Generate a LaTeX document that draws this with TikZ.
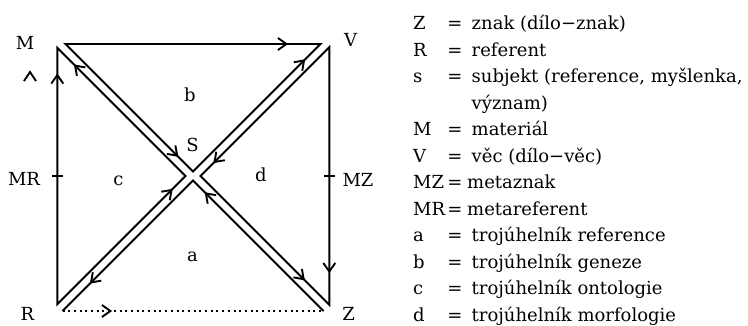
\documentclass[tikz,border=0pt]{standalone}
\usepackage{fontspec}
\setmainfont{DejaVu Serif}
\usetikzlibrary{arrows.meta,decorations.markings}
\begin{document}
\begin{tikzpicture}[x=1pt,y=-1pt,
  >={Straight Barb[length=8.5pt,width=12pt]},
  edge/.style={line width=1.9pt},
  arrowat/.style={postaction={decorate},decoration={markings,mark=at position #1 with {\arrow{>}}}},
  lbl/.style={font=\fontsize{18pt}{22pt}\selectfont, inner sep=0pt, anchor=base},
  key/.style={lbl, anchor=base west},
]
\useasboundingbox (0,0) rectangle (748,325);
% triangle corners
\coordinate (Tl) at (65.5,44);   \coordinate (Tr) at (320.5,44);  \coordinate (T) at (193,171.5);
\coordinate (Lt) at (57.3,47.8); \coordinate (Lb) at (57.3,304.2); \coordinate (L) at (185.5,176);
\coordinate (Rt) at (329.3,47.2); \coordinate (Rb) at (329.3,304.8); \coordinate (Rr) at (200.5,176);
\coordinate (Bl) at (62.5,311);  \coordinate (Br) at (323.5,311);  \coordinate (B) at (193,180.5);
% ticks and caret
\coordinate (tl1) at (52,176); \coordinate (tl2) at (62.5,176);
\coordinate (tr1) at (324,176); \coordinate (tr2) at (334.5,176);
\coordinate (ca1) at (24,81); \coordinate (ca2) at (30,72); \coordinate (ca3) at (36,81);

% triangles
\draw[edge] (Tl) -- (Tr) -- (T) -- cycle;
\draw[edge] (Lt) -- (L) -- (Lb) -- cycle;
\draw[edge] (Rt) -- (Rb) -- (Rr) -- cycle;
\draw[edge] (Bl) -- (B) -- (Br);
\draw[edge, dash pattern=on 2pt off 3.7pt] (Bl) -- (Br);
\draw[edge] (tl1) -- (tl2);
\draw[edge] (tr1) -- (tr2);
\draw[edge] (ca1) -- (ca2) -- (ca3);

% arrows
\path[edge, arrowat=0.873] (Tl) -- (Tr);
\path[edge, arrowat=0.90] (Lb) -- (Lt);
\path[edge, arrowat=0.877] (Rt) -- (Rb);
\path[edge, arrowat=0.19] (Bl) -- (Br);
\path[edge, arrowat=0.885] (Tl) -- (T);
\path[edge, arrowat=0.87] (L) -- (Lt);
\path[edge, arrowat=0.88] (T) -- (Tr);
\path[edge, arrowat=0.90] (Rt) -- (Rr);
\path[edge, arrowat=0.90] (Lb) -- (L);
\path[edge, arrowat=0.79] (B) -- (Bl);
\path[edge, arrowat=0.91] (Br) -- (B);
\path[edge, arrowat=0.81] (Rr) -- (Rb);

% diagram labels
\node[lbl] (nM) at (25,49.3) {M};
\node[lbl] (nV) at (350.5,46.7) {V};
\node[lbl] (nR) at (27.5,320) {R};
\node[lbl] (nZ) at (348.7,320) {Z};
\node[lbl] (nMR) at (24,185.5) {MR};
\node[lbl] (nMZ) at (358,186) {MZ};
\node[lbl] (nb) at (190,101.7) {b};
\node[lbl] (nS) at (192.5,151.7) {S};
\node[lbl] (nc) at (118.3,185) {c};
\node[lbl] (nd) at (260.8,181.7) {d};
\node[lbl] (na) at (192.5,261.7) {a};

% legend
\node[key] (k0) at (413,29.5) {Z};  \node[lbl] (e0) at (455,29.5) {=};  \node[key] (t0) at (471.5,29.5) {znak (dílo−znak)};
\node[key] (k1) at (413,56) {R};    \node[lbl] (e1) at (455,56) {=};    \node[key] (t1) at (471.5,56) {referent};
\node[key] (k2) at (413,82.5) {s};  \node[lbl] (e2) at (455,82.5) {=};  \node[key] (t2) at (471.5,82.5) {subjekt (reference, myšlenka,};
\node[key] (t3) at (471.5,109) {význam)};
\node[key] (k4) at (413,135.5) {M}; \node[lbl] (e4) at (455,135.5) {=}; \node[key] (t4) at (471.5,135.5) {materiál};
\node[key] (k5) at (413,162) {V};   \node[lbl] (e5) at (455,162) {=};   \node[key] (t5) at (471.5,162) {věc (dílo−věc)};
\node[key] (k6) at (413,188.5) {MZ}; \node[lbl] (e6) at (455,188.5) {=}; \node[key] (t6) at (467,188.5) {metaznak};
\node[key] (k7) at (413,215) {MR};  \node[lbl] (e7) at (455,215) {=}; \node[key] (t7) at (467,215) {metareferent};
\node[key] (k8) at (413,241.5) {a}; \node[lbl] (e8) at (455,241.5) {=}; \node[key] (t8) at (471.5,241.5) {trojúhelník reference};
\node[key] (k9) at (413,268) {b};   \node[lbl] (e9) at (455,268) {=};   \node[key] (t9) at (471.5,268) {trojúhelník geneze};
\node[key] (k10) at (413,294.5) {c}; \node[lbl] (e10) at (455,294.5) {=}; \node[key] (t10) at (471.5,294.5) {trojúhelník ontologie};
\node[key] (k11) at (413,321) {d};  \node[lbl] (e11) at (455,321) {=};  \node[key] (t11) at (471.5,321) {trojúhelník morfologie};
\end{tikzpicture}
\end{document}
